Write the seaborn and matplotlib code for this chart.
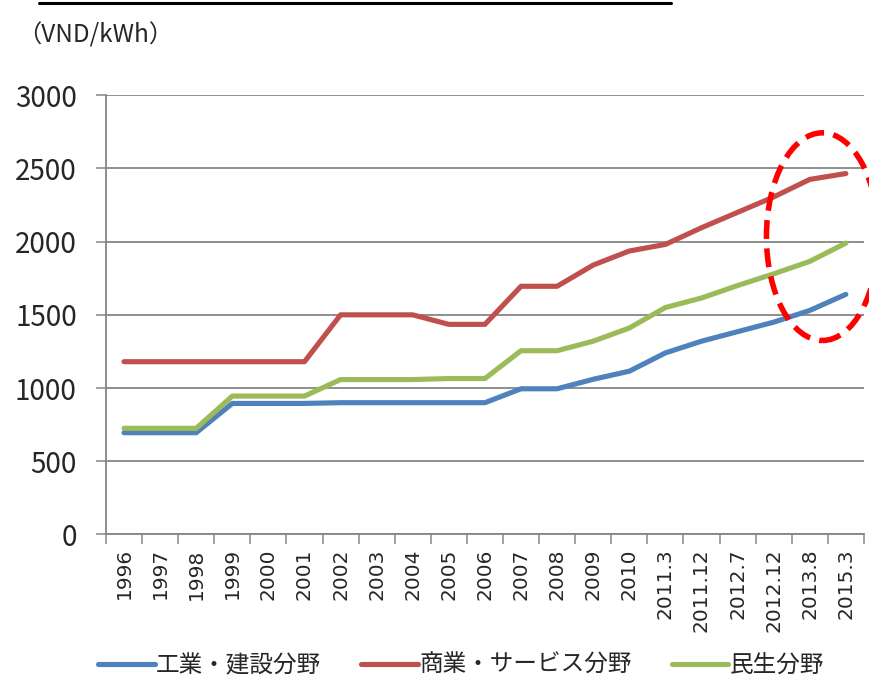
import matplotlib
matplotlib.use("Agg")
import matplotlib.pyplot as plt
import pandas as pd
import seaborn as sns
from matplotlib.patches import Ellipse
from matplotlib.lines import Line2D
from matplotlib.ticker import FixedLocator, NullFormatter

# Electricity tariff by sector (VND/kWh)
periods = ["1996", "1997", "1998", "1999", "2000", "2001", "2002", "2003",
           "2004", "2005", "2006", "2007", "2008", "2009", "2010", "2011.3",
           "2011.12", "2012.7", "2012.12", "2013.8", "2015.3"]
industry = [695, 695, 695, 895, 895, 895, 900, 900, 900, 900, 900,
            995, 995, 1060, 1115, 1240, 1320, 1385, 1450, 1530, 1640]
commerce = [1180, 1180, 1180, 1180, 1180, 1180, 1500, 1500, 1500, 1435, 1435,
            1695, 1695, 1840, 1936, 1981, 2095, 2200, 2305, 2425, 2465]
residential = [725, 725, 725, 945, 945, 945, 1058, 1058, 1058, 1065, 1065,
               1255, 1255, 1320, 1410, 1550, 1615, 1700, 1780, 1865, 1990]
series_names = ["工業・建設分野", "商業・サービス分野", "民生分野"]
colors = ["#4F81BD", "#C0504D", "#9BBB59"]
y_ticks = [0, 500, 1000, 1500, 2000, 2500, 3000]

rows = []
for name, vals in zip(series_names, [industry, commerce, residential]):
    for i, v in enumerate(vals):
        rows.append({"pos": i, "period": periods[i], "value": v, "series": name})
df = pd.DataFrame(rows)

sns.set_style("white")
plt.rcParams["font.family"] = ["Noto Sans CJK JP", "DejaVu Sans"]

grid_c = "#868686"
fig = plt.figure(figsize=(8.7, 6.8), dpi=100)
ax = fig.add_axes([0.1218, 0.214, 0.993 - 0.1218, 0.86 - 0.214])

sns.lineplot(data=df, x="pos", y="value", hue="series", hue_order=series_names,
             palette=colors, linewidth=3.7, ax=ax,
             solid_capstyle="round", solid_joinstyle="round")

n = len(periods)
ax.set_xlim(-0.5, n - 0.5)
ax.set_ylim(0, 3000)
ax.set_xlabel("")
ax.set_ylabel("")

# y axis
ax.set_yticks(y_ticks)
ax.set_yticklabels([str(t) for t in y_ticks], fontsize=20)
ax.tick_params(axis="y", direction="out", length=7, width=1.1, color=grid_c,
               pad=14, left=True)
ax.yaxis.grid(True, color=grid_c, linewidth=1.3)
ax.set_axisbelow(True)

# x axis: ticks between categories, labels at category centres
ax.xaxis.set_major_locator(FixedLocator([i - 0.5 for i in range(n + 1)]))
ax.xaxis.set_major_formatter(NullFormatter())
ax.xaxis.set_minor_locator(FixedLocator(list(range(n))))
ax.set_xticklabels(periods, minor=True, rotation=90, fontsize=14.5,
                   family="DejaVu Sans", va="top")
ax.tick_params(axis="x", which="major", direction="out", length=7, width=1.1,
               color=grid_c, bottom=True)
ax.tick_params(axis="x", which="minor", length=0, pad=10)

for side in ["top", "right"]:
    ax.spines[side].set_visible(False)
for side in ["left", "bottom"]:
    ax.spines[side].set_color(grid_c)
    ax.spines[side].set_linewidth(1.3)

# highlight of the latest tariffs
ell = Ellipse((19.35, 2034), width=3.1, height=1418, fill=False,
              edgecolor="#FF0000", linewidth=4.0, linestyle=(0, (3.4, 1.7)),
              clip_on=False, zorder=5)
ax.add_patch(ell)

# legend
handles, labels = ax.get_legend_handles_labels()
ax.get_legend().remove()
fig.legend(handles, labels, loc="center", bbox_to_anchor=(0.53, 0.021),
           ncol=3, frameon=False, fontsize=17, handlelength=2.4,
           handletextpad=0.05, columnspacing=1.7)

# unit label and heading underline
fig.text(0.02, 0.948, "（VND/kWh）", fontsize=17.5, ha="left", va="center")
fig.add_artist(Line2D([39 / 870, 671 / 870], [1 - 3 / 680, 1 - 3 / 680],
                      color="black", linewidth=2.2))

fig.savefig("out.png", dpi=100)
